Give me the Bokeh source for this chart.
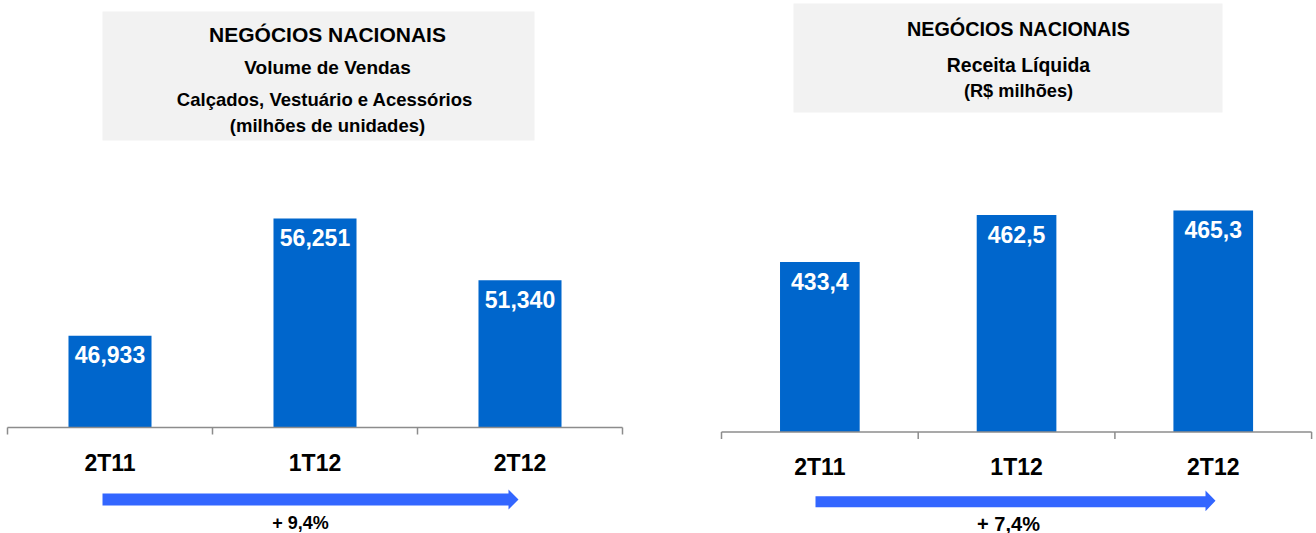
from bokeh.plotting import figure
from bokeh.layouts import row
from bokeh.models import Range1d
from bokeh.core.properties import value
from bokeh.embed import file_html
from bokeh.resources import INLINE

# ---------------- data ----------------
categories = ["2T11", "1T12", "2T12"]
volume_values = [46.933, 56.251, 51.340]
volume_labels = ["46,933", "56,251", "51,340"]
revenue_values = [433.4, 462.5, 465.3]
revenue_labels = ["433,4", "462,5", "465,3"]
left_title = ["NEGÓCIOS NACIONAIS", "Volume de Vendas",
              "Calçados, Vestuário e  Acessórios", "(milhões de unidades)"]
right_title = ["NEGÓCIOS NACIONAIS", "Receita Líquida", "(R$ milhões)"]
volume_growth = "+ 9,4%"
revenue_growth = "+ 7,4%"

# ---------------- style ----------------
FONT = value("Liberation Sans")
H = 533
BAR_COLOR = "#0066CC"
BOX_COLOR = "#F2F2F2"
AXIS_COLOR = "#8C8C8C"
ARROW_COLOR = "#3366FF"


def panel(width, cat_left, cat_w, base_px, y_base, ky, values, labels,
          box, title_lines, title_cx, title_centers, title_sizes,
          cat_label_y, arrow, growth, growth_cx, growth_cy, growth_size):
    def X(px):
        return (px - cat_left) / cat_w

    def Y(py):
        return y_base + (base_px - py) / ky

    p = figure(width=width, height=H, output_backend="svg", toolbar_location=None,
               x_axis_location=None, y_axis_location=None,
               x_range=Range1d(X(0), X(width)), y_range=Range1d(Y(H), Y(0)),
               min_border=0, min_border_left=0, min_border_right=0,
               min_border_top=0, min_border_bottom=0)
    p.outline_line_color = None
    p.grid.visible = False
    p.background_fill_color = "white"
    p.border_fill_color = "white"

    n = len(categories)
    xs = [i + 0.5 for i in range(n)]

    # title box
    p.quad(left=[X(box[0])], right=[X(box[1])], top=[Y(box[2])], bottom=[Y(box[3])],
           fill_color=BOX_COLOR, line_color=None)
    for line, cy, fs in zip(title_lines, title_centers, title_sizes):
        p.text(x=[X(title_cx)], y=[Y(cy)], text=[line], text_font=FONT,
               text_font_style="bold", text_font_size=fs, text_color="black",
               text_align="center", text_baseline="middle")

    # bars
    p.vbar(x=xs, top=values, bottom=y_base, width=0.405,
           fill_color=BAR_COLOR, line_color=None)
    p.text(x=xs, y=[v - 19 / ky for v in values], text=labels, text_font=FONT,
           text_font_style="bold", text_font_size="23px", text_color="white",
           text_align="center", text_baseline="middle")

    # axis line + boundary ticks
    p.segment(x0=[0], y0=[y_base], x1=[n], y1=[y_base], line_color=AXIS_COLOR, line_width=1.5)
    p.segment(x0=list(range(n + 1)), y0=[y_base] * (n + 1),
              x1=list(range(n + 1)), y1=[y_base - 7 / ky] * (n + 1),
              line_color=AXIS_COLOR, line_width=1.5)

    # category labels
    p.text(x=xs, y=[Y(cat_label_y)] * n, text=categories, text_font=FONT,
           text_font_style="bold", text_font_size="23px", text_color="black",
           text_align="center", text_baseline="middle")

    # growth arrow
    x0, xh, xt, sy0, sy1, hy0, hy1 = arrow
    mid = (hy0 + hy1) / 2
    pts = [(x0, sy0), (xh, sy0), (xh, hy0), (xt, mid), (xh, hy1), (xh, sy1), (x0, sy1)]
    p.patch(x=[X(a) for a, b in pts], y=[Y(b) for a, b in pts],
            fill_color=ARROW_COLOR, line_color=None)
    p.text(x=[X(growth_cx)], y=[Y(growth_cy)], text=[growth], text_font=FONT,
           text_font_style="bold", text_font_size=growth_size, text_color="black",
           text_align="center", text_baseline="middle")
    return p


left = panel(width=708, cat_left=7, cat_w=205, base_px=427, y_base=39.66, ky=12.6,
             values=volume_values, labels=volume_labels,
             box=(102, 534, 11, 140), title_lines=left_title, title_cx=327,
             title_centers=[34, 66.5, 98.5, 124.5],
             title_sizes=["21px", "19px", "18.5px", "18.5px"],
             cat_label_y=462, arrow=(102, 508, 518, 493, 505, 489, 509),
             growth=volume_growth, growth_cx=300, growth_cy=522, growth_size="18px")

right = panel(width=608, cat_left=13, cat_w=196.7, base_px=431.5, y_base=328.4, ky=1.618,
              values=revenue_values, labels=revenue_labels,
              box=(85, 514, 3, 112), title_lines=right_title, title_cx=310,
              title_centers=[28, 64, 90],
              title_sizes=["19.8px", "19.4px", "18.2px"],
              cat_label_y=466, arrow=(107, 497, 507, 495.7, 506.7, 490, 510.7),
              growth=revenue_growth, growth_cx=300, growth_cy=523, growth_size="20px")

layout = row(left, right)
open("out.html", "w").write(file_html(layout, INLINE))
